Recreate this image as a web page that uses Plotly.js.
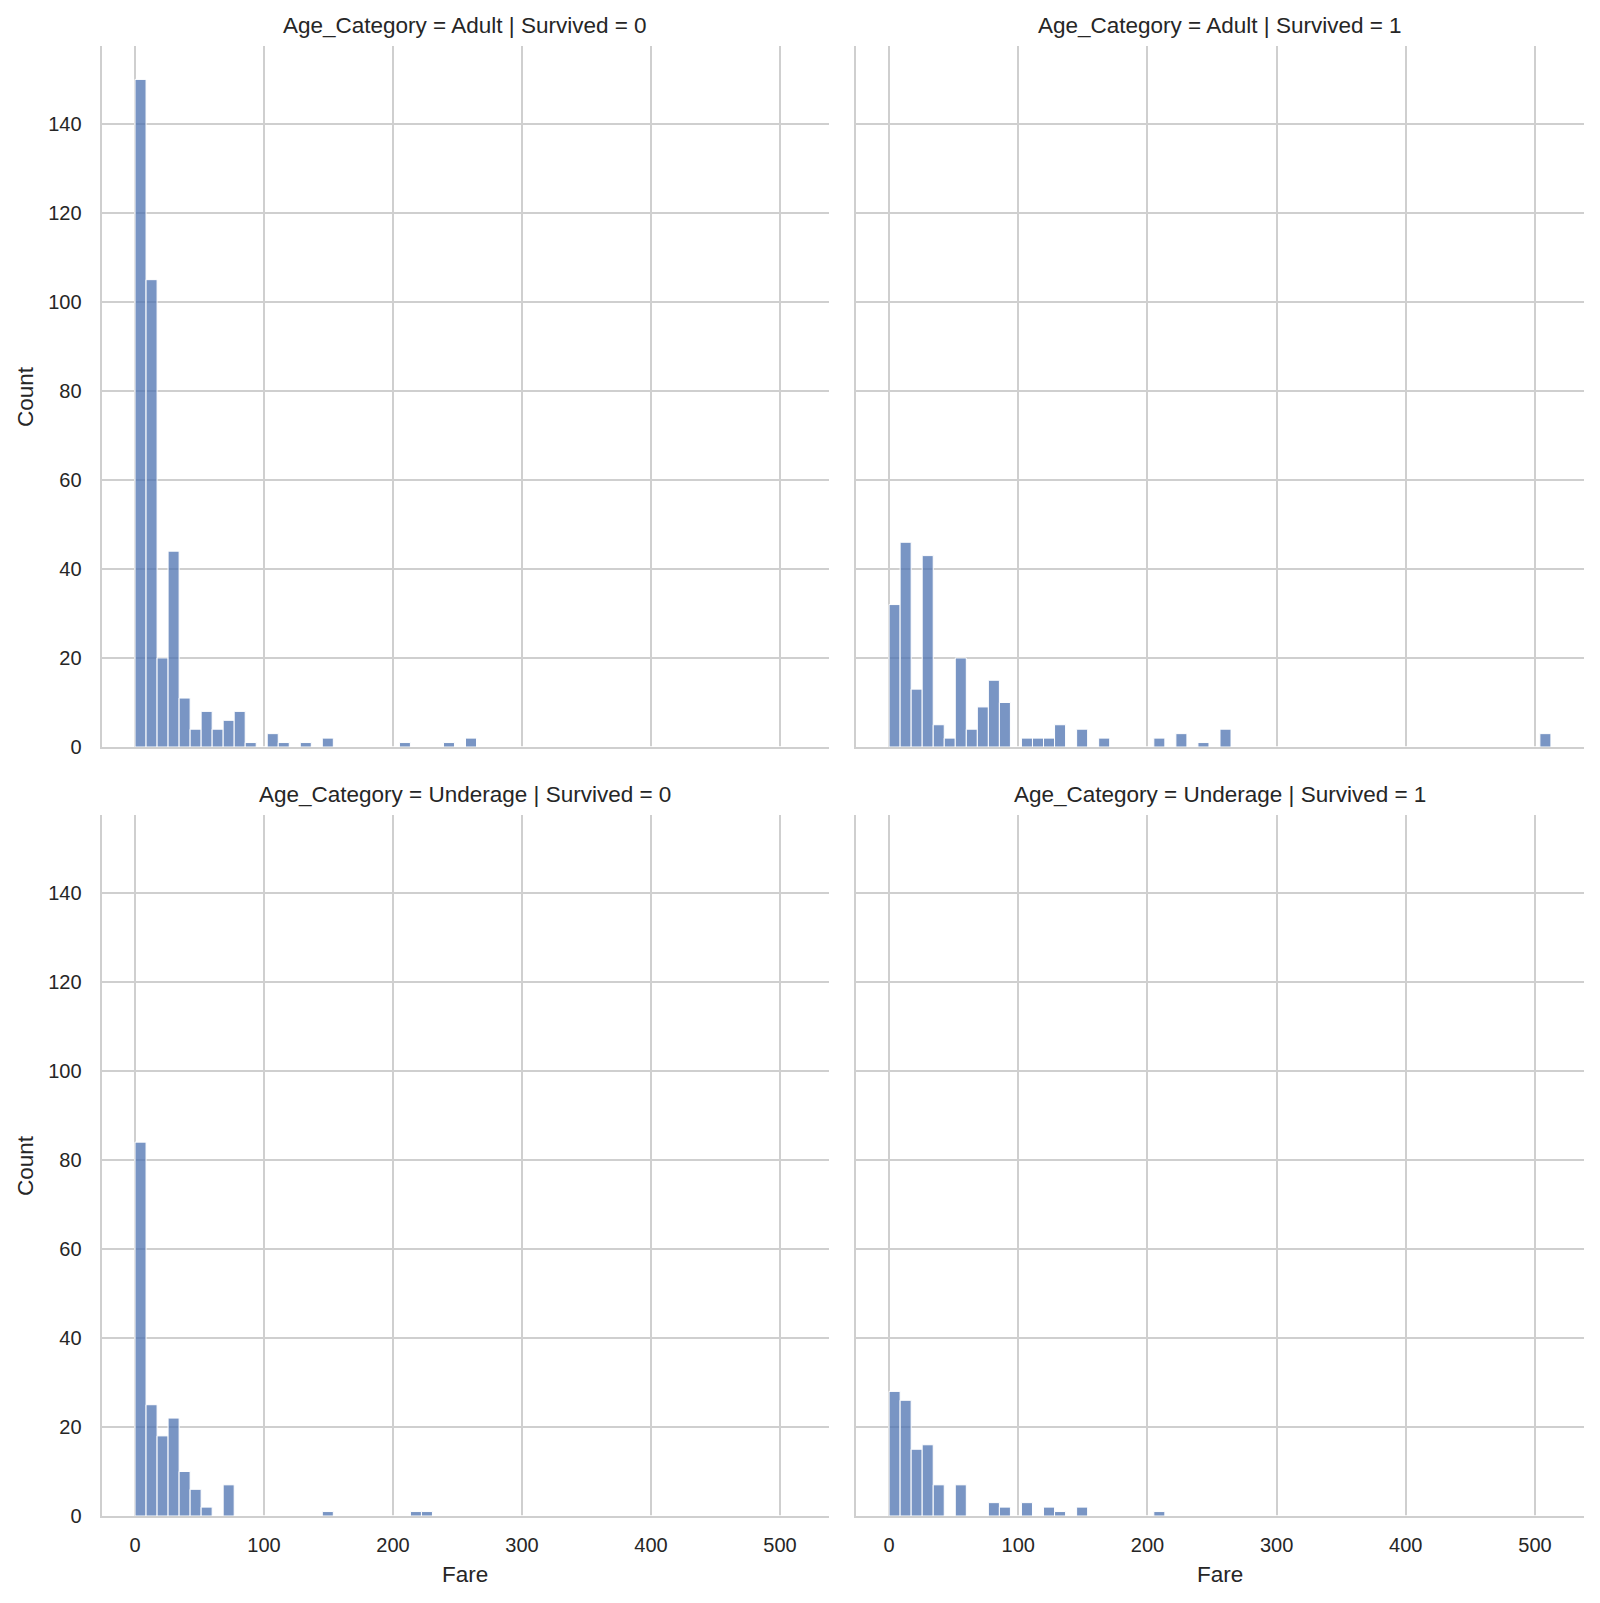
<!DOCTYPE html>
<html>
<head>
<meta charset="utf-8">
<script src="https://cdn.plot.ly/plotly-3.0.1.min.js"></script>
<style>
html,body{margin:0;padding:0;background:#fff;}
#chart{width:1600px;height:1603px;}
</style>
</head>
<body>
<div id="chart"></div>
<script>
// Histogram binning (shared across facets): 60 bins over Fare 0 .. 512.3292
const fareMin = 0;
const fareMax = 512.3292;
const nBins = 60;

// Counts per bin
const adultSurv0 = [150,105,20,44,11,4,8,4,6,8, 1,0,3,1,0,1,0,2,0,0, 0,0,0,0,1,0,0,0,1,0, 2,0,0,0,0,0,0,0,0,0, 0,0,0,0,0,0,0,0,0,0, 0,0,0,0,0,0,0,0,0,0];
const adultSurv1 = [32,46,13,43,5,2,20,4,9,15, 10,0,2,2,2,5,0,4,0,2, 0,0,0,0,2,0,3,0,1,0, 4,0,0,0,0,0,0,0,0,0, 0,0,0,0,0,0,0,0,0,0, 0,0,0,0,0,0,0,0,0,3];
const underSurv0 = [84,25,18,22,10,6,2,0,7,0, 0,0,0,0,0,0,0,1,0,0, 0,0,0,0,0,1,1,0,0,0, 0,0,0,0,0,0,0,0,0,0, 0,0,0,0,0,0,0,0,0,0, 0,0,0,0,0,0,0,0,0,0];
const underSurv1 = [28,26,15,16,7,0,7,0,0,3, 2,0,3,0,2,1,0,2,0,0, 0,0,0,0,1,0,0,0,0,0, 0,0,0,0,0,0,0,0,0,0, 0,0,0,0,0,0,0,0,0,0, 0,0,0,0,0,0,0,0,0,0];

const panelTitles = [
  "Age_Category = Adult | Survived = 0",
  "Age_Category = Adult | Survived = 1",
  "Age_Category = Underage | Survived = 0",
  "Age_Category = Underage | Survived = 1"
];
const xTicks = [0,100,200,300,400,500];
const yTicks = [0,20,40,60,80,100,120,140];
const xLabel = "Fare";
const yLabel = "Count";

const binWidth = (fareMax - fareMin) / nBins;
const binLeft = Array.from({length: nBins}, (_, i) => fareMin + i * binWidth);

const W = 1600, H = 1603;
const px = v => v / W;
const py = v => (H - v) / H;

const colDom = [[px(102), px(829)], [px(856), px(1584)]];
const rowDom = [[py(747), py(46)], [py(1516), py(815)]];

const FONT = "Liberation Sans, Arial, Helvetica, sans-serif";
const TXT = "#262626";
const GRID = "#cfcfcf";

const series = [adultSurv0, adultSurv1, underSurv0, underSurv1];
const traces = series.map((counts, k) => ({
  type: "bar",
  x: binLeft,
  y: counts,
  width: binWidth,
  offset: 0,
  xaxis: k === 0 ? "x" : "x" + (k + 1),
  yaxis: k === 0 ? "y" : "y" + (k + 1),
  marker: {color: "rgba(76,114,176,0.75)", line: {color: "#ffffff", width: 1}},
  showlegend: false,
  hoverinfo: "x+y"
}));

const xRange = [fareMin - 0.05 * (fareMax - fareMin), fareMax + 0.05 * (fareMax - fareMin)];
const yMax = Math.max(...series.map(s => Math.max(...s)));
const yRange = [0, yMax * 1.05];

function xAxis(k) {
  const col = k % 2, row = Math.floor(k / 2);
  return {
    domain: colDom[col],
    anchor: k === 0 ? "y" : "y" + (k + 1),
    range: xRange,
    tickvals: xTicks,
    ticktext: xTicks.map(String),
    showticklabels: row === 1,
    ticks: "",
    ticklabelstandoff: 10,
    showgrid: true, gridcolor: GRID, gridwidth: 2,
    zeroline: false,
    showline: true, linecolor: GRID, linewidth: 2.4,
    tickfont: {family: FONT, size: 20, color: TXT},
    fixedrange: true
  };
}
function yAxis(k) {
  const col = k % 2, row = Math.floor(k / 2);
  return {
    domain: rowDom[row],
    anchor: k === 0 ? "x" : "x" + (k + 1),
    range: yRange,
    tickvals: yTicks,
    ticktext: yTicks.map(String),
    showticklabels: col === 0,
    ticks: "",
    ticklabelstandoff: 14,
    showgrid: true, gridcolor: GRID, gridwidth: 2,
    zeroline: false,
    showline: true, linecolor: GRID, linewidth: 2.4,
    tickfont: {family: FONT, size: 20, color: TXT},
    fixedrange: true
  };
}

const annotations = [];
panelTitles.forEach((t, k) => {
  const col = k % 2, row = Math.floor(k / 2);
  annotations.push({
    text: t, xref: "paper", yref: "paper",
    x: (colDom[col][0] + colDom[col][1]) / 2,
    y: row === 0 ? py(25.5) : py(795),
    xanchor: "center", yanchor: "middle", showarrow: false,
    font: {family: FONT, size: 22.5, color: TXT}
  });
});
[0, 1].forEach(row => {
  annotations.push({
    text: yLabel, xref: "paper", yref: "paper",
    x: px(25.5), y: (rowDom[row][0] + rowDom[row][1]) / 2,
    xanchor: "center", yanchor: "middle", textangle: -90, showarrow: false,
    font: {family: FONT, size: 22.5, color: TXT}
  });
});
[0, 1].forEach(col => {
  annotations.push({
    text: xLabel, xref: "paper", yref: "paper",
    x: (colDom[col][0] + colDom[col][1]) / 2, y: py(1574.5),
    xanchor: "center", yanchor: "middle", showarrow: false,
    font: {family: FONT, size: 22.5, color: TXT}
  });
});

const layout = {
  width: W, height: H,
  margin: {l: 0, r: 0, t: 0, b: 0, pad: 0},
  paper_bgcolor: "#ffffff", plot_bgcolor: "#ffffff",
  bargap: 0,
  font: {family: FONT, color: TXT},
  annotations: annotations
};
for (let k = 0; k < 4; k++) {
  layout[k === 0 ? "xaxis" : "xaxis" + (k + 1)] = xAxis(k);
  layout[k === 0 ? "yaxis" : "yaxis" + (k + 1)] = yAxis(k);
}

Plotly.newPlot("chart", traces, layout, {displayModeBar: false, staticPlot: true});
</script>
</body>
</html>
